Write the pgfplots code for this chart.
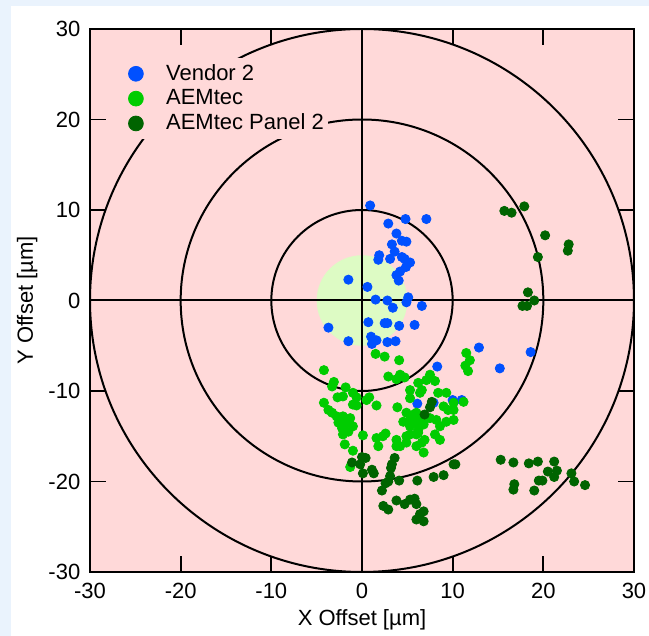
\documentclass[border=0pt]{standalone}
\usepackage{fontspec}
\setmainfont{Liberation Sans}
\usepackage{pgfplots}
\pgfplotsset{compat=1.18}

\definecolor{pagebg}{HTML}{EAF3FD}
\definecolor{plotbg}{HTML}{FFD9D9}
\definecolor{target}{HTML}{DDFBC4}
\definecolor{vblue}{HTML}{0050FF}
\definecolor{agreen}{HTML}{00CC00}
\definecolor{dgreen}{HTML}{006400}

\begin{document}
\fontsize{11}{13.2}\selectfont
\begin{tikzpicture}
% page background: light blue strips, white panel
\fill[pagebg] (-60pt,-50pt) rectangle (300pt,300pt);
\fill[white] (-39.5pt,-50pt) rectangle (300pt,283pt);
\begin{axis}[
    scale only axis,
    width=272pt, height=271.5pt,
    xmin=-30, xmax=30, ymin=-30, ymax=30,
    xtick={-30,-20,...,30}, ytick={-30,-20,...,30},
    tick align=inside, major tick length=8pt,
    minor tick num=0,
    axis on top,
    axis line style={line width=1pt},
    tick style={draw=black, line width=0.9pt},
    axis background/.style={fill=plotbg},
    font=\fontsize{11}{13.2}\selectfont,
    /pgf/number format/assume math mode=true,
    xlabel={X Offset [µm]}, ylabel={Y Offset [µm]},
    xticklabel style={yshift=-1.5pt},
    yticklabel style={xshift=-1pt},
    xlabel style={yshift=2pt},
    ylabel style={yshift=-2pt},
    legend style={at={(axis description cs:0.068,0.947)}, anchor=north west,
        fill=plotbg, draw=none, font=\fontsize{11}{13.2}\selectfont,
        row sep=-1pt, inner xsep=0pt, inner ysep=1pt},
    legend cell align=left,
    legend image code/.code={\draw[#1, mark size=3.7pt] plot coordinates {(0.15cm,0cm)};
        \path[draw=none, fill=none] (0,0) -- (0.61cm,0);},
]
% target zone and rings
\fill[target] (axis cs:0,0) circle [radius=5];
\draw[line width=1pt] (axis cs:0,0) circle [radius=10];
\draw[line width=1pt] (axis cs:0,0) circle [radius=20];
\draw[line width=1pt] (axis cs:0,0) circle [radius=30];
\draw[line width=1pt] (axis cs:-30,0) -- (axis cs:30,0);
\draw[line width=1pt] (axis cs:0,-30) -- (axis cs:0,30);
% inward tick marks on all four sides
\pgfplotsinvokeforeach{-20,-10,10,20}{
  \draw[line width=0.9pt] (axis cs:#1,-30) -- ++(0pt,8pt);
  \draw[line width=0.9pt] (axis cs:#1,30) -- ++(0pt,-8pt);
  \draw[line width=0.9pt] (axis cs:-30,#1) -- ++(8pt,0pt);
  \draw[line width=0.9pt] (axis cs:30,#1) -- ++(-8pt,0pt);
}

\addplot[only marks, mark=*, mark size=2.3pt, color=vblue] coordinates {
(0.9,10.5)(4.8,9.0)(7.1,9.0)(2.9,8.5)(3.8,7.4)(4.4,6.6)(4.9,6.5)(3.3,6.2)
(3.6,5.4)(1.9,5.0)(1.8,4.5)(3.1,4.6)(4.4,4.8)(4.7,4.6)(5.3,4.2)(4.85,3.7)
(4.2,3.2)(3.8,2.8)(4.05,2.2)(-1.5,2.3)(0.6,1.5)(1.5,0.1)(2.8,0)(3.4,-0.8)
(5.1,0.35)(4.9,-0.2)(6.6,-0.6)(-3.7,-3.0)(0.7,-2.4)(2.5,-2.5)(2.8,-2.5)
(4.1,-2.8)(5.8,-2.7)(-1.5,-4.5)(1.0,-4.0)(1.6,-4.4)(1.1,-4.8)(2.8,-4.6)
(3.7,-4.5)(8.3,-7.3)(6.1,-11.4)(7.9,-11.3)(10.0,-11.0)(11.0,-11.0)
(12.9,-5.2)(18.6,-5.7)(15.2,-7.5)
};
\addlegendentry{Vendor 2}

\addplot[only marks, mark=*, mark size=2.3pt, color=agreen] coordinates {
(1.5,-5.9)(2.5,-6.2)(4.1,-6.6)(-4.2,-7.7)(-3.1,-9.0)(-3.3,-9.5)(-1.8,-9.6)
(-1.0,-10.2)(-0.6,-10.7)(-2.7,-10.7)(-2.1,-10.6)(0.8,-10.7)(0.5,-11.0)
(-4.2,-11.3)(-3.7,-12.1)(-3.3,-12.4)(-1.0,-11.5)(-0.6,-11.6)(1.6,-11.6)
(2.9,-8.4)(3.8,-8.7)(4.7,-8.5)(4.2,-8.2)(7.5,-8.2)(8.05,-8.9)(7.1,-8.8)
(6.2,-9.1)(6.6,-9.9)(5.3,-9.9)(5.3,-10.8)(8.4,-10.2)(9.3,-10.2)(10.1,-11.3)
(11.2,-11.2)(9.0,-11.7)(9.5,-12.1)(10.1,-12.1)(4.9,-12.4)(5.7,-12.6)
(6.0,-12.4)(6.4,-12.8)(4.55,-13.4)(5.3,-13.2)(5.8,-13.5)(6.4,-13.4)
(6.9,-13.2)(5.3,-13.9)(6.2,-14.3)(6.8,-13.7)(7.5,-13.0)(8.2,-13.2)
(8.6,-13.9)(9.3,-13.4)(10.1,-13.2)(-2.8,-12.8)(-2.1,-12.8)(-1.3,-13.0)
(-2.6,-13.5)(-1.7,-13.5)(-1.0,-13.9)(-2.2,-14.1)(-1.5,-14.5)(-2.1,-14.8)
(0.1,-14.9)(3.9,-11.8)(11.5,-5.8)(11.9,-6.6)(11.4,-7.2)(11.7,-7.8)
(6.4,-10.2)(1.6,-15.2)(2.3,-15.0)(3.8,-15.4)(4.9,-15.0)(6.0,-14.8)
(6.9,-15.4)(8.05,-14.8)(8.6,-15.4)(-1.9,-15.9)(-1.0,-16.6)(1.8,-16.1)
(2.6,-14.7)(3.8,-16.1)(4.9,-15.7)(5.3,-14.8)(6.2,-14.6)(6.6,-15.7)
(6.8,-16.8)(6.0,-16.1)(4.2,-16.1)(-1.3,-18.4)
};
\addlegendentry{AEMtec}

\addplot[only marks, mark=*, mark size=2.3pt, color=dgreen] coordinates {
(15.7,9.9)(16.5,9.7)(17.9,10.4)(20.2,7.2)(19.4,4.8)(18.3,0.9)(19.0,0)
(17.7,-0.6)(18.2,-0.6)(22.8,6.2)(22.7,5.5)(15.3,-17.6)(16.7,-17.9)
(18.4,-18.0)(19.4,-17.8)(21.2,-17.8)(20.5,-18.9)(21.5,-18.8)(21.2,-19.5)
(23.1,-19.1)(23.4,-20.0)(24.6,-20.4)(19.5,-19.9)(19.9,-19.9)(16.8,-20.3)
(16.7,-20.9)(19.0,-21.0)(0,-17.3)(0.4,-17.4)(-1.1,-17.9)(-0.2,-18.1)
(0.1,-19.1)(1.1,-18.7)(1.3,-19.1)(3.6,-17.4)(3.3,-18.1)(3.2,-18.5)
(3.1,-19.4)(2.9,-20.0)(2.6,-20.2)(2.2,-21.0)(4.1,-19.9)(6.1,-19.9)
(7.9,-19.5)(9.0,-19.3)(10.1,-18.1)(10.3,-18.1)(2.35,-22.7)(2.9,-23.1)
(3.8,-22.1)(4.7,-22.5)(5.3,-22.0)(5.8,-21.9)(6.0,-22.5)(6.8,-23.3)
(6.4,-23.6)(6.0,-24.2)(6.8,-24.4)(7.7,-11.2)(7.5,-11.8)(6.9,-12.6)
};
\addlegendentry{AEMtec Panel 2}
\end{axis}
\pgfresetboundingbox
\path[use as bounding box] (-45pt,-32pt) rectangle (279.5pt,286pt);
\end{tikzpicture}
\end{document}
